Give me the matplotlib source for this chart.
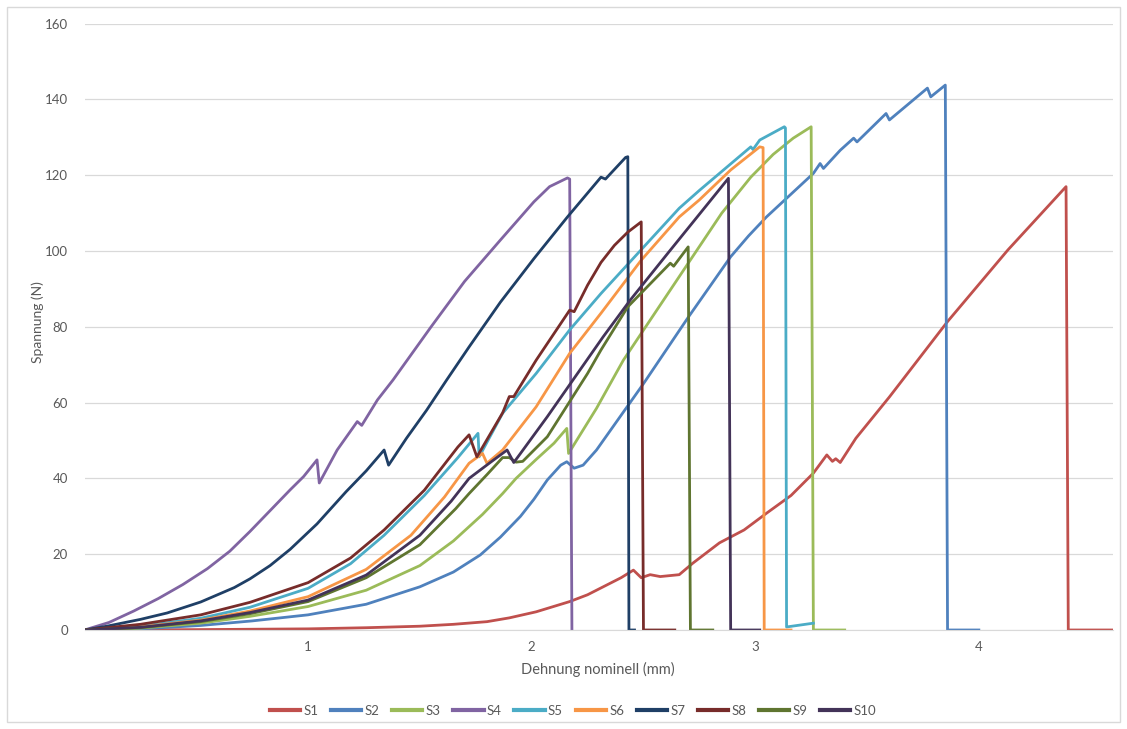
import matplotlib
matplotlib.use("Agg")
import matplotlib.pyplot as plt
from matplotlib.patches import Rectangle

plt.rcParams['font.family'] = ['Lato', 'DejaVu Sans']

# Spannung (N) over Dehnung nominell (mm)
s1_x = [0, 0.5, 1.0, 1.26, 1.5, 1.65, 1.8, 1.9, 2.02, 2.17, 2.25, 2.32, 2.4, 2.455, 2.49, 2.53, 2.575,
        2.66, 2.72, 2.84, 2.95, 3.05, 3.16, 3.26, 3.32, 3.345, 3.36, 3.38, 3.45, 3.60, 3.86, 4.13, 4.39, 4.40, 4.60]
s1_y = [0, 0.1, 0.3, 0.6, 1.0, 1.5, 2.2, 3.2, 4.8, 7.5, 9.3, 11.4, 13.8, 15.8, 13.8, 14.6, 14.1,
        14.6, 17.6, 23.0, 26.4, 30.8, 35.5, 41.4, 46.2, 44.5, 45.2, 44.2, 50.6, 61.5, 81.4, 100.3, 117.0, 0, 0]

s2_x = [0, 0.25, 0.52, 0.75, 1.0, 1.26, 1.50, 1.65, 1.77, 1.86, 1.95, 2.01, 2.07, 2.13, 2.157, 2.19, 2.23,
        2.29, 2.50, 2.70, 2.89, 2.97, 3.05, 3.26, 3.29, 3.305, 3.38, 3.44, 3.455, 3.585, 3.60, 3.77, 3.785,
        3.85, 3.86, 4.00]
s2_y = [0, 0.3, 1.2, 2.4, 4.0, 6.8, 11.4, 15.3, 19.8, 24.5, 30.0, 34.5, 39.6, 43.5, 44.4, 42.7, 43.5,
        47.5, 65.0, 82.5, 98.5, 104.0, 109.0, 120.5, 123.1, 121.8, 126.6, 129.8, 128.8, 136.3, 134.6, 143.0, 140.7,
        143.8, 0, 0]

s3_x = [0, 0.25, 0.52, 0.74, 1.0, 1.26, 1.50, 1.65, 1.78, 1.87, 1.93, 2.02, 2.10, 2.157, 2.165, 2.29,
        2.41, 2.69, 2.85, 2.98, 3.08, 3.17, 3.25, 3.26, 3.40]
s3_y = [0, 0.5, 1.8, 3.6, 6.2, 10.5, 17.0, 23.5, 30.5, 36.0, 40.0, 45.0, 49.3, 53.2, 46.6, 58.5,
        71.2, 95.9, 110.0, 119.5, 125.5, 129.8, 132.8, 0, 0]

s4_x = [0, 0.11, 0.22, 0.33, 0.44, 0.55, 0.65, 0.74, 0.83, 0.92, 0.98, 1.04, 1.05, 1.13, 1.22, 1.24,
        1.31, 1.38, 1.55, 1.70, 1.86, 2.01, 2.08, 2.16, 2.17, 2.18]
s4_y = [0, 2.0, 5.0, 8.3, 12.0, 16.2, 20.8, 26.0, 31.5, 37.0, 40.5, 44.9, 38.8, 47.5, 55.0, 54.0,
        60.7, 66.0, 80.0, 92.0, 102.9, 113.0, 117.0, 119.3, 119.0, 0]

s5_x = [0, 0.25, 0.52, 0.74, 1.0, 1.19, 1.34, 1.52, 1.67, 1.76, 1.765, 1.87, 2.02, 2.17, 2.31, 2.66,
        2.75, 2.90, 2.98, 2.99, 3.02, 3.13, 3.135, 3.14, 3.26]
s5_y = [0, 1.0, 3.1, 6.0, 11.0, 17.5, 25.0, 35.5, 45.5, 51.9, 45.7, 57.2, 67.7, 79.2, 88.8, 111.3,
        116.0, 123.5, 127.5, 126.8, 129.3, 132.8, 132.5, 0.8, 1.8]

s6_x = [0, 0.25, 0.52, 0.74, 1.0, 1.26, 1.46, 1.61, 1.72, 1.78, 1.80, 1.87, 2.02, 2.17, 2.31, 2.49,
        2.66, 2.75, 2.89, 3.02, 3.035, 3.04, 3.16]
s6_y = [0, 0.8, 2.6, 5.0, 8.8, 16.0, 25.0, 35.1, 44.0, 46.6, 44.0, 47.5, 58.9, 73.0, 83.6, 97.6,
        109.0, 113.5, 121.4, 127.5, 127.3, 0, 0]

s7_x = [0, 0.1, 0.25, 0.37, 0.52, 0.67, 0.74, 0.83, 0.92, 1.04, 1.17, 1.26, 1.34, 1.36, 1.44, 1.53,
        1.62, 1.72, 1.86, 2.01, 2.16, 2.31, 2.33, 2.42, 2.43, 2.435, 2.46]
s7_y = [0, 1.0, 2.8, 4.5, 7.4, 11.2, 13.5, 17.0, 21.3, 28.0, 36.5, 42.0, 47.5, 43.5, 50.6, 58.0,
        66.0, 74.7, 86.5, 98.0, 109.0, 119.5, 119.0, 124.7, 124.9, 0, 0]

s8_x = [0, 0.25, 0.52, 0.74, 1.0, 1.19, 1.34, 1.52, 1.67, 1.72, 1.755, 1.87, 1.90, 1.92, 2.02, 2.17,
        2.19, 2.25, 2.31, 2.37, 2.43, 2.49, 2.50, 2.64]
s8_y = [0, 1.5, 4.0, 7.3, 12.5, 19.0, 26.4, 36.9, 48.3, 51.5, 45.7, 57.3, 61.6, 61.6, 71.2, 84.4,
        84.0, 91.0, 97.0, 101.5, 105.0, 107.7, 0, 0]

s9_x = [0, 0.25, 0.52, 0.74, 1.0, 1.26, 1.50, 1.66, 1.72, 1.80, 1.87, 1.90, 1.93, 1.96, 2.07, 2.25,
        2.31, 2.43, 2.62, 2.635, 2.70, 2.71, 2.81]
s9_y = [0, 0.6, 2.2, 4.3, 7.5, 13.8, 22.5, 32.0, 36.0, 41.0, 45.5, 45.5, 44.3, 44.5, 51.0, 67.7,
        73.9, 85.3, 96.8, 96.0, 101.1, 0, 0]

s10_x = [0, 0.25, 0.52, 0.74, 1.0, 1.26, 1.50, 1.64, 1.72, 1.81, 1.89, 1.92, 1.95, 2.07, 2.32, 2.44,
         2.61, 2.88, 2.89, 3.02]
s10_y = [0, 0.7, 2.4, 4.6, 7.9, 14.5, 25.0, 34.0, 40.0, 44.0, 47.5, 44.2, 46.6, 56.3, 77.4, 87.0,
         99.5, 119.2, 0, 0]

names = ['S1', 'S2', 'S3', 'S4', 'S5', 'S6', 'S7', 'S8', 'S9', 'S10']
colors = ['#C0504D', '#4F81BD', '#9BBB59', '#8064A2', '#4BACC6',
          '#F79646', '#1F3F66', '#772C2A', '#5F7530', '#433358']

series = [(s1_x, s1_y), (s2_x, s2_y), (s3_x, s3_y), (s4_x, s4_y), (s5_x, s5_y),
          (s6_x, s6_y), (s7_x, s7_y), (s8_x, s8_y), (s9_x, s9_y), (s10_x, s10_y)]

W, H = 1127, 729
fig = plt.figure(figsize=(W / 100, H / 100), dpi=100)
ax = fig.add_axes([84.5 / W, 1 - 630 / H, (1113 - 84.5) / W, (630 - 23.7) / H])

grey = '#595959'
for (x, y), name, c in zip(series, names, colors):
    ax.plot(x, y, color=c, lw=2.0, label=name, solid_joinstyle='round')

ax.set_xlim(0, 4.6)
ax.set_ylim(0, 160)
ax.set_yticks(range(0, 161, 20))
ax.set_xticks([1, 2, 3, 4])
ax.grid(axis='y', color='#D9D9D9', lw=0.9)
ax.set_axisbelow(True)
for sp in ['left', 'right', 'top']:
    ax.spines[sp].set_visible(False)
ax.spines['bottom'].set_color('#D9D9D9')
ax.tick_params(length=0, labelsize=9.5, labelcolor=grey)
ax.tick_params(axis='y', pad=12)
ax.tick_params(axis='x', pad=8)

fig.text(38 / W, 1 - 322 / H, 'Spannung (N)', rotation=90, ha='center', va='center',
         fontsize=10, color=grey)
fig.text(598 / W, 1 - 669 / H, 'Dehnung nominell (mm)', ha='center', va='center',
         fontsize=10.5, color=grey)

handles, labels = ax.get_legend_handles_labels()
leg = fig.legend(handles, labels, loc='center', bbox_to_anchor=(573 / W, 1 - 711 / H), ncol=10,
                 frameon=False, handlelength=2.3, handletextpad=0.25, columnspacing=0.95,
                 fontsize=9.5)
for t in leg.get_texts():
    t.set_color(grey)
for l in leg.get_lines():
    l.set_linewidth(3.0)

fig.add_artist(Rectangle((7 / W, 7 / H), 1113 / W, 715 / H, transform=fig.transFigure,
                         fill=False, ec='#D9D9D9', lw=1))

fig.savefig('out.png', dpi=100)
